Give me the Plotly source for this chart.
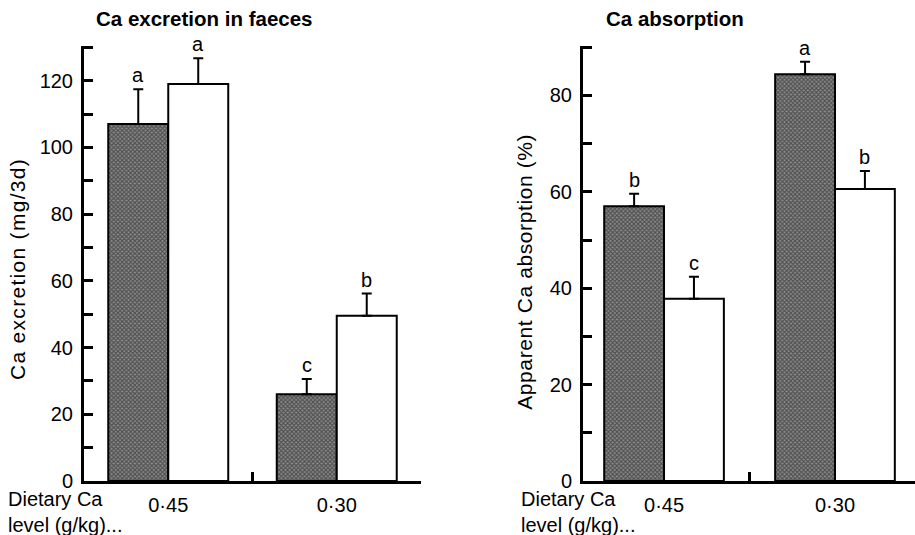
import plotly.graph_objects as go

# ---------------- data ----------------
groups = ["0·45", "0·30"]

exc_hatched = [107.0, 26.0]
exc_hatched_err = [10.4, 4.6]
exc_hatched_lbl = ["a", "c"]
exc_white = [119.0, 49.5]
exc_white_err = [7.7, 6.7]
exc_white_lbl = ["a", "b"]

abs_hatched = [57.0, 84.4]
abs_hatched_err = [2.6, 2.6]
abs_hatched_lbl = ["b", "a"]
abs_white = [37.8, 60.6]
abs_white_err = [4.6, 3.7]
abs_white_lbl = ["c", "b"]

y1_ticks = [0, 20, 40, 60, 80, 100, 120]
y2_ticks = [0, 20, 40, 60, 80]

FONT = "Liberation Sans, Arial, sans-serif"
W, H = 915, 535

fig = go.Figure()

hatch = dict(color="#555555", line=dict(color="black", width=2),
             pattern=dict(shape="x", fgcolor="#111111", bgcolor="#8c8c8c",
                          size=3, solidity=0.6))
white = dict(color="white", line=dict(color="black", width=2))


def add_pair(xa, ya, hv, he, wv, we, w):
    fig.add_trace(go.Bar(x=groups, y=hv, xaxis=xa, yaxis=ya, width=w, offset=-w,
                         marker=hatch,
                         error_y=dict(type="data", array=he, arrayminus=[0] * len(he),
                                      symmetric=False, color="black", thickness=2, width=5),
                         showlegend=False, hoverinfo="skip"))
    fig.add_trace(go.Bar(x=groups, y=wv, xaxis=xa, yaxis=ya, width=w, offset=0,
                         marker=white,
                         error_y=dict(type="data", array=we, arrayminus=[0] * len(we),
                                      symmetric=False, color="black", thickness=2, width=5),
                         showlegend=False, hoverinfo="skip"))


w1 = 0.356
w2 = 0.35
add_pair("x", "y", exc_hatched, exc_hatched_err, exc_white, exc_white_err, w1)
add_pair("x2", "y2", abs_hatched, abs_hatched_err, abs_white, abs_white_err, w2)

annotations = []


def add_letters(xref, yref, vals, errs, lbls, shift):
    for i, (v, e, t) in enumerate(zip(vals, errs, lbls)):
        annotations.append(dict(x=i + shift, y=v + e, xref=xref, yref=yref, text=t,
                                showarrow=False, yanchor="bottom", yshift=1,
                                font=dict(family=FONT, size=20, color="black")))


add_letters("x", "y", exc_hatched, exc_hatched_err, exc_hatched_lbl, -w1 / 2)
add_letters("x", "y", exc_white, exc_white_err, exc_white_lbl, w1 / 2)
add_letters("x2", "y2", abs_hatched, abs_hatched_err, abs_hatched_lbl, -w2 / 2)
add_letters("x2", "y2", abs_white, abs_white_err, abs_white_lbl, w2 / 2)


def px(x):
    return x / W


def py(y):
    return 1 - y / H


annotations += [
    dict(x=px(204), y=py(19), xref="paper", yref="paper", text="<b>Ca excretion in faeces</b>",
         showarrow=False, xanchor="center", yanchor="middle",
         font=dict(family=FONT, size=20.5, color="black")),
    dict(x=px(675), y=py(19), xref="paper", yref="paper", text="<b>Ca absorption</b>",
         showarrow=False, xanchor="center", yanchor="middle",
         font=dict(family=FONT, size=20.5, color="black")),
    dict(x=px(17), y=py(269), xref="paper", yref="paper", text="Ca excretion (mg/3d)",
         showarrow=False, textangle=-90, xanchor="center", yanchor="middle",
         font=dict(family=FONT, size=21, color="black")),
    dict(x=px(524), y=py(272), xref="paper", yref="paper", text="Apparent Ca absorption (%)",
         showarrow=False, textangle=-90, xanchor="center", yanchor="middle",
         font=dict(family=FONT, size=21, color="black")),
    dict(x=px(6), y=py(512), xref="paper", yref="paper", text="Dietary Ca<br>level (g/kg)...",
         showarrow=False, xanchor="left", yanchor="middle", align="left",
         font=dict(family=FONT, size=20, color="black")),
    dict(x=px(519), y=py(512), xref="paper", yref="paper", text="Dietary Ca<br>level (g/kg)...",
         showarrow=False, xanchor="left", yanchor="middle", align="left",
         font=dict(family=FONT, size=20, color="black")),
]

axis_common = dict(showline=True, linewidth=3, linecolor="black", showgrid=False,
                   zeroline=False, ticks="inside", ticklen=9, tickwidth=3, tickcolor="black",
                   tickfont=dict(family=FONT, size=20, color="black"))

y_bottom = 481
y1_top = 481 - 130.5 * 3.336
y2_top = 481 - 90.3 * 4.82

fig.update_layout(
    width=W, height=H, autosize=False,
    margin=dict(l=0, r=0, t=0, b=0, pad=0),
    paper_bgcolor="white", plot_bgcolor="white",
    barmode="overlay", hovermode=False,
    annotations=annotations,
    xaxis=dict(domain=[px(84), px(421)], range=[-0.5, 1.5], type="category",
               tickson="boundaries", anchor="y", ticklabelstandoff=4, automargin=False,
               **axis_common),
    yaxis=dict(domain=[py(y_bottom), py(y1_top)], range=[0, 130.5], tickvals=y1_ticks,
               minor=dict(dtick=10, ticks="inside", ticklen=9, tickwidth=3, tickcolor="black"),
               anchor="x", ticklabelstandoff=4, automargin=False, **axis_common),
    xaxis2=dict(domain=[px(583), 1.0], range=[-0.474, 1.468], type="category",
                tickson="boundaries", anchor="y2", ticklabelstandoff=4, automargin=False,
                **axis_common),
    yaxis2=dict(domain=[py(y_bottom), py(y2_top)], range=[0, 90.3], tickvals=y2_ticks,
                minor=dict(dtick=10, ticks="inside", ticklen=9, tickwidth=3, tickcolor="black"),
                anchor="x2", ticklabelstandoff=4, automargin=False, **axis_common),
)

post = """
document.documentElement.style.margin = '0';
document.body.style.margin = '0';
document.body.style.overflow = 'hidden';
var gd = document.getElementById('{plot_id}');
Plotly.relayout(gd, {width: 915, height: 535}).then(function () {
  var ts = gd.querySelectorAll('text.annotation-text');
  ts.forEach(function (t) {
    var s = t.textContent;
    if (s.indexOf('Ca excretion (') === 0) { t.style.letterSpacing = '1.3px'; }
    if (s.indexOf('Apparent') === 0) { t.style.letterSpacing = '0.6px'; }
  });
});
"""

fig.write_html("out.html", post_script=post,
               config={"displayModeBar": False, "staticPlot": True})
